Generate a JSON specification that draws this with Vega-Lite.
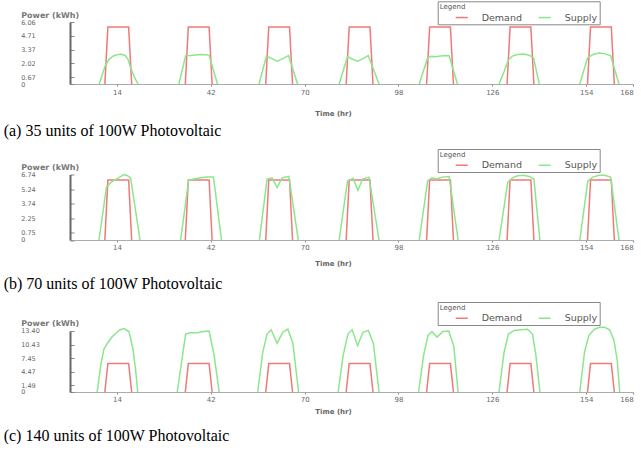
{
  "$schema": "https://vega.github.io/schema/vega-lite/v6.json",
  "background": "white",
  "padding": {"left": 3, "top": 0, "right": 0, "bottom": 0},
  "config": {"view": {"stroke": null}, "font": "DejaVu Sans",
    "legend": {"orient": "none", "legendX": 367.7, "direction": "horizontal", "titleFontSize": 7, "titleFontWeight": "normal", "titleColor": "#555", "labelFontSize": 9.5, "labelColor": "#555", "symbolType": "stroke", "symbolSize": 144, "symbolStrokeWidth": 1.5, "strokeColor": "#888", "fillColor": "white", "padding": 2, "titlePadding": 0, "columnPadding": 0, "symbolOffset": 15, "labelOffset": 13, "rowPadding": 0},
    "axisX": {"grid": false, "labelFontSize": 7, "labelColor": "#666", "tickSize": 2, "tickColor": "#888", "domainColor": "#aaa", "labelPadding": 2, "titleFontSize": 7, "titleFontWeight": "bold", "titleColor": "#666", "titleX": 263, "titleBaseline": "middle"},
    "axisY": {"labelExpr": "datum.value == 0 ? '0' : format(datum.value, '.2f')", "labelOverlap": false, "grid": false, "labelFontSize": 6.5, "labelColor": "#666", "labelAlign": "left", "labelPadding": 53.3, "tickSize": -4, "tickColor": "#888", "domainColor": "#666", "domainWidth": 2, "titleAngle": 0, "titleX": -49.3, "titleY": -7, "titleAlign": "left", "titleBaseline": "middle", "titleFontSize": 8, "titleFontWeight": "bold", "titleColor": "#777"},
    "title": {"orient": "bottom", "anchor": "start", "frame": "bounds", "font": "Liberation Serif", "fontSize": 16, "fontWeight": "normal", "color": "black", "dx": -17}
  },
  "spacing": 90.5,
  "bounds": "flush",
  "resolve": {"scale": {"color": "independent"}, "legend": {"color": "independent"}},
  "datasets": {
    "a": [
      {"d":1,"s":"Demand","t":10.4,"v":0},{"d":1,"s":"Demand","t":11.3,"v":5.57},{"d":1,"s":"Demand","t":17.5,"v":5.57},{"d":1,"s":"Demand","t":18.4,"v":0},
      {"d":2,"s":"Demand","t":34.4,"v":0},{"d":2,"s":"Demand","t":35.3,"v":5.57},{"d":2,"s":"Demand","t":41.5,"v":5.57},{"d":2,"s":"Demand","t":42.4,"v":0},
      {"d":3,"s":"Demand","t":58.4,"v":0},{"d":3,"s":"Demand","t":59.3,"v":5.57},{"d":3,"s":"Demand","t":65.5,"v":5.57},{"d":3,"s":"Demand","t":66.4,"v":0},
      {"d":4,"s":"Demand","t":82.4,"v":0},{"d":4,"s":"Demand","t":83.3,"v":5.57},{"d":4,"s":"Demand","t":89.5,"v":5.57},{"d":4,"s":"Demand","t":90.4,"v":0},
      {"d":5,"s":"Demand","t":106.4,"v":0},{"d":5,"s":"Demand","t":107.3,"v":5.57},{"d":5,"s":"Demand","t":113.5,"v":5.57},{"d":5,"s":"Demand","t":114.4,"v":0},
      {"d":6,"s":"Demand","t":130.4,"v":0},{"d":6,"s":"Demand","t":131.3,"v":5.57},{"d":6,"s":"Demand","t":137.5,"v":5.57},{"d":6,"s":"Demand","t":138.4,"v":0},
      {"d":7,"s":"Demand","t":154.4,"v":0},{"d":7,"s":"Demand","t":155.3,"v":5.57},{"d":7,"s":"Demand","t":161.5,"v":5.57},{"d":7,"s":"Demand","t":162.4,"v":0},
      {"d":1,"s":"Supply","t":8.7,"v":0},{"d":1,"s":"Supply","t":9.5,"v":0.79},{"d":1,"s":"Supply","t":10.45,"v":1.73},{"d":1,"s":"Supply","t":11.5,"v":2.36},{"d":1,"s":"Supply","t":12.8,"v":2.71},{"d":1,"s":"Supply","t":14,"v":2.85},{"d":1,"s":"Supply","t":15.3,"v":2.9},{"d":1,"s":"Supply","t":16.5,"v":2.79},{"d":1,"s":"Supply","t":17.3,"v":2.42},{"d":1,"s":"Supply","t":18.1,"v":1.58},{"d":1,"s":"Supply","t":19.2,"v":0.67},{"d":1,"s":"Supply","t":20.3,"v":0},
      {"d":2,"s":"Supply","t":32.5,"v":0},{"d":2,"s":"Supply","t":34.5,"v":2.76},{"d":2,"s":"Supply","t":36,"v":2.79},{"d":2,"s":"Supply","t":37.5,"v":2.84},{"d":2,"s":"Supply","t":39,"v":2.88},{"d":2,"s":"Supply","t":40.5,"v":2.85},{"d":2,"s":"Supply","t":41.5,"v":2.8},{"d":2,"s":"Supply","t":44,"v":0},
      {"d":3,"s":"Supply","t":56.4,"v":0},{"d":3,"s":"Supply","t":58.6,"v":2.73},{"d":3,"s":"Supply","t":60.2,"v":2.48},{"d":3,"s":"Supply","t":61.8,"v":2.22},{"d":3,"s":"Supply","t":63.5,"v":2.48},{"d":3,"s":"Supply","t":65.2,"v":2.78},{"d":3,"s":"Supply","t":67.9,"v":0},
      {"d":4,"s":"Supply","t":80.3,"v":0},{"d":4,"s":"Supply","t":82.8,"v":2.67},{"d":4,"s":"Supply","t":84.3,"v":2.42},{"d":4,"s":"Supply","t":85.8,"v":2.22},{"d":4,"s":"Supply","t":87.4,"v":2.48},{"d":4,"s":"Supply","t":89,"v":2.78},{"d":4,"s":"Supply","t":92.2,"v":0},
      {"d":5,"s":"Supply","t":104.2,"v":0},{"d":5,"s":"Supply","t":106.7,"v":2.55},{"d":5,"s":"Supply","t":107.8,"v":2.7},{"d":5,"s":"Supply","t":109,"v":2.67},{"d":5,"s":"Supply","t":110.5,"v":2.73},{"d":5,"s":"Supply","t":112,"v":2.78},{"d":5,"s":"Supply","t":113.1,"v":2.76},{"d":5,"s":"Supply","t":115.6,"v":0},
      {"d":6,"s":"Supply","t":128,"v":0},{"d":6,"s":"Supply","t":129.5,"v":1.21},{"d":6,"s":"Supply","t":130.8,"v":2.36},{"d":6,"s":"Supply","t":132,"v":2.73},{"d":6,"s":"Supply","t":133.5,"v":2.88},{"d":6,"s":"Supply","t":135.4,"v":2.93},{"d":6,"s":"Supply","t":137,"v":2.82},{"d":6,"s":"Supply","t":138.3,"v":2.55},{"d":6,"s":"Supply","t":139.2,"v":1.21},{"d":6,"s":"Supply","t":140,"v":0},
      {"d":7,"s":"Supply","t":152.1,"v":0},{"d":7,"s":"Supply","t":154.4,"v":2.55},{"d":7,"s":"Supply","t":156,"v":2.88},{"d":7,"s":"Supply","t":157.8,"v":3.03},{"d":7,"s":"Supply","t":159.5,"v":2.97},{"d":7,"s":"Supply","t":161.3,"v":2.76},{"d":7,"s":"Supply","t":163.8,"v":0}
    ],
    "b": [
      {"d":1,"s":"Demand","t":10.4,"v":0},{"d":1,"s":"Demand","t":11.3,"v":6.17},{"d":1,"s":"Demand","t":17.5,"v":6.17},{"d":1,"s":"Demand","t":18.4,"v":0},
      {"d":2,"s":"Demand","t":34.4,"v":0},{"d":2,"s":"Demand","t":35.3,"v":6.17},{"d":2,"s":"Demand","t":41.5,"v":6.17},{"d":2,"s":"Demand","t":42.4,"v":0},
      {"d":3,"s":"Demand","t":58.4,"v":0},{"d":3,"s":"Demand","t":59.3,"v":6.17},{"d":3,"s":"Demand","t":65.5,"v":6.17},{"d":3,"s":"Demand","t":66.4,"v":0},
      {"d":4,"s":"Demand","t":82.4,"v":0},{"d":4,"s":"Demand","t":83.3,"v":6.17},{"d":4,"s":"Demand","t":89.5,"v":6.17},{"d":4,"s":"Demand","t":90.4,"v":0},
      {"d":5,"s":"Demand","t":106.4,"v":0},{"d":5,"s":"Demand","t":107.3,"v":6.17},{"d":5,"s":"Demand","t":113.5,"v":6.17},{"d":5,"s":"Demand","t":114.4,"v":0},
      {"d":6,"s":"Demand","t":130.4,"v":0},{"d":6,"s":"Demand","t":131.3,"v":6.17},{"d":6,"s":"Demand","t":137.5,"v":6.17},{"d":6,"s":"Demand","t":138.4,"v":0},
      {"d":7,"s":"Demand","t":154.4,"v":0},{"d":7,"s":"Demand","t":155.3,"v":6.17},{"d":7,"s":"Demand","t":161.5,"v":6.17},{"d":7,"s":"Demand","t":162.4,"v":0},
      {"d":1,"s":"Supply","t":8.65,"v":0},{"d":1,"s":"Supply","t":10.9,"v":5.46},{"d":1,"s":"Supply","t":12,"v":5.86},{"d":1,"s":"Supply","t":13.1,"v":6.13},{"d":1,"s":"Supply","t":14.5,"v":6.4},{"d":1,"s":"Supply","t":16.1,"v":6.74},{"d":1,"s":"Supply","t":17.2,"v":6.61},{"d":1,"s":"Supply","t":18.1,"v":6.34},{"d":1,"s":"Supply","t":20.9,"v":0},
      {"d":2,"s":"Supply","t":33,"v":0},{"d":2,"s":"Supply","t":35.4,"v":6.13},{"d":2,"s":"Supply","t":37,"v":6.27},{"d":2,"s":"Supply","t":39,"v":6.4},{"d":2,"s":"Supply","t":41,"v":6.47},{"d":2,"s":"Supply","t":42.8,"v":6.47},{"d":2,"s":"Supply","t":45.2,"v":0},
      {"d":3,"s":"Supply","t":56.5,"v":0},{"d":3,"s":"Supply","t":58.8,"v":6.27},{"d":3,"s":"Supply","t":60.3,"v":6.4},{"d":3,"s":"Supply","t":61.8,"v":5.39},{"d":3,"s":"Supply","t":63.3,"v":6.4},{"d":3,"s":"Supply","t":65.3,"v":6.54},{"d":3,"s":"Supply","t":68.1,"v":0},
      {"d":4,"s":"Supply","t":80.3,"v":0},{"d":4,"s":"Supply","t":82.8,"v":6.07},{"d":4,"s":"Supply","t":84.5,"v":6.34},{"d":4,"s":"Supply","t":85.9,"v":5.12},{"d":4,"s":"Supply","t":87.3,"v":6.27},{"d":4,"s":"Supply","t":89.2,"v":6.47},{"d":4,"s":"Supply","t":92.2,"v":0},
      {"d":5,"s":"Supply","t":104.2,"v":0},{"d":5,"s":"Supply","t":106.7,"v":6.07},{"d":5,"s":"Supply","t":108,"v":6.4},{"d":5,"s":"Supply","t":109.5,"v":6.27},{"d":5,"s":"Supply","t":111,"v":6.47},{"d":5,"s":"Supply","t":113.1,"v":6.54},{"d":5,"s":"Supply","t":115.8,"v":0},
      {"d":6,"s":"Supply","t":128,"v":0},{"d":6,"s":"Supply","t":130.6,"v":5.93},{"d":6,"s":"Supply","t":132,"v":6.4},{"d":6,"s":"Supply","t":133.6,"v":6.61},{"d":6,"s":"Supply","t":135.4,"v":6.67},{"d":6,"s":"Supply","t":137,"v":6.54},{"d":6,"s":"Supply","t":138.4,"v":6.27},{"d":6,"s":"Supply","t":140.2,"v":0},
      {"d":7,"s":"Supply","t":152.1,"v":0},{"d":7,"s":"Supply","t":154.5,"v":6.07},{"d":7,"s":"Supply","t":156,"v":6.47},{"d":7,"s":"Supply","t":157.8,"v":6.67},{"d":7,"s":"Supply","t":159.5,"v":6.67},{"d":7,"s":"Supply","t":161.3,"v":6.47},{"d":7,"s":"Supply","t":163.8,"v":0}
    ],
    "c": [
      {"d":1,"s":"Demand","t":10.4,"v":0},{"d":1,"s":"Demand","t":11.3,"v":6.25},{"d":1,"s":"Demand","t":17.5,"v":6.25},{"d":1,"s":"Demand","t":18.4,"v":0},
      {"d":2,"s":"Demand","t":34.4,"v":0},{"d":2,"s":"Demand","t":35.3,"v":6.25},{"d":2,"s":"Demand","t":41.5,"v":6.25},{"d":2,"s":"Demand","t":42.4,"v":0},
      {"d":3,"s":"Demand","t":58.4,"v":0},{"d":3,"s":"Demand","t":59.3,"v":6.25},{"d":3,"s":"Demand","t":65.5,"v":6.25},{"d":3,"s":"Demand","t":66.4,"v":0},
      {"d":4,"s":"Demand","t":82.4,"v":0},{"d":4,"s":"Demand","t":83.3,"v":6.25},{"d":4,"s":"Demand","t":89.5,"v":6.25},{"d":4,"s":"Demand","t":90.4,"v":0},
      {"d":5,"s":"Demand","t":106.4,"v":0},{"d":5,"s":"Demand","t":107.3,"v":6.25},{"d":5,"s":"Demand","t":113.5,"v":6.25},{"d":5,"s":"Demand","t":114.4,"v":0},
      {"d":6,"s":"Demand","t":130.4,"v":0},{"d":6,"s":"Demand","t":131.3,"v":6.25},{"d":6,"s":"Demand","t":137.5,"v":6.25},{"d":6,"s":"Demand","t":138.4,"v":0},
      {"d":7,"s":"Demand","t":154.4,"v":0},{"d":7,"s":"Demand","t":155.3,"v":6.25},{"d":7,"s":"Demand","t":161.5,"v":6.25},{"d":7,"s":"Demand","t":162.4,"v":0},
      {"d":1,"s":"Supply","t":8.1,"v":0},{"d":1,"s":"Supply","t":9.2,"v":6.03},{"d":1,"s":"Supply","t":10.1,"v":9.38},{"d":1,"s":"Supply","t":11.2,"v":10.72},{"d":1,"s":"Supply","t":12.5,"v":12.06},{"d":1,"s":"Supply","t":13.6,"v":12.86},{"d":1,"s":"Supply","t":15,"v":13.67},{"d":1,"s":"Supply","t":16.1,"v":13.94},{"d":1,"s":"Supply","t":17.6,"v":13.27},{"d":1,"s":"Supply","t":18.8,"v":9.38},{"d":1,"s":"Supply","t":19.6,"v":4.69},{"d":1,"s":"Supply","t":20.2,"v":0},
      {"d":2,"s":"Supply","t":32,"v":0},{"d":2,"s":"Supply","t":34.5,"v":12.73},{"d":2,"s":"Supply","t":36,"v":13.0},{"d":2,"s":"Supply","t":38,"v":13.0},{"d":2,"s":"Supply","t":39.8,"v":13.27},{"d":2,"s":"Supply","t":41.5,"v":13.4},{"d":2,"s":"Supply","t":43,"v":8.04},{"d":2,"s":"Supply","t":44.5,"v":0},
      {"d":3,"s":"Supply","t":56,"v":0},{"d":3,"s":"Supply","t":57.5,"v":8.71},{"d":3,"s":"Supply","t":58.8,"v":12.73},{"d":3,"s":"Supply","t":60,"v":13.67},{"d":3,"s":"Supply","t":61.8,"v":10.72},{"d":3,"s":"Supply","t":63.5,"v":13.13},{"d":3,"s":"Supply","t":65,"v":13.8},{"d":3,"s":"Supply","t":66.5,"v":10.72},{"d":3,"s":"Supply","t":68.2,"v":0},
      {"d":4,"s":"Supply","t":80,"v":0},{"d":4,"s":"Supply","t":81.5,"v":8.04},{"d":4,"s":"Supply","t":82.9,"v":12.73},{"d":4,"s":"Supply","t":84.2,"v":13.67},{"d":4,"s":"Supply","t":85.8,"v":10.18},{"d":4,"s":"Supply","t":87.4,"v":13.13},{"d":4,"s":"Supply","t":89,"v":13.53},{"d":4,"s":"Supply","t":90.5,"v":10.72},{"d":4,"s":"Supply","t":92.2,"v":0},
      {"d":5,"s":"Supply","t":104,"v":0},{"d":5,"s":"Supply","t":105.5,"v":8.04},{"d":5,"s":"Supply","t":106.8,"v":12.46},{"d":5,"s":"Supply","t":108,"v":13.27},{"d":5,"s":"Supply","t":109.5,"v":12.06},{"d":5,"s":"Supply","t":111.2,"v":13.27},{"d":5,"s":"Supply","t":113,"v":13.4},{"d":5,"s":"Supply","t":114.5,"v":10.05},{"d":5,"s":"Supply","t":115.8,"v":0},
      {"d":6,"s":"Supply","t":128,"v":0},{"d":6,"s":"Supply","t":129.5,"v":8.71},{"d":6,"s":"Supply","t":130.8,"v":12.73},{"d":6,"s":"Supply","t":132.5,"v":13.53},{"d":6,"s":"Supply","t":134.5,"v":13.67},{"d":6,"s":"Supply","t":136.5,"v":13.8},{"d":6,"s":"Supply","t":138,"v":12.73},{"d":6,"s":"Supply","t":139,"v":8.04},{"d":6,"s":"Supply","t":140.2,"v":0},
      {"d":7,"s":"Supply","t":152.1,"v":0},{"d":7,"s":"Supply","t":153.5,"v":8.71},{"d":7,"s":"Supply","t":154.8,"v":12.46},{"d":7,"s":"Supply","t":156.5,"v":13.8},{"d":7,"s":"Supply","t":158,"v":14.2},{"d":7,"s":"Supply","t":159.5,"v":14.2},{"d":7,"s":"Supply","t":161,"v":13.67},{"d":7,"s":"Supply","t":162.3,"v":11.39},{"d":7,"s":"Supply","t":163.3,"v":6.7},{"d":7,"s":"Supply","t":164,"v":0}
    ]
  },
  "vconcat": [
    {
      "width": 563.1, "height": 62,
      "data": {"name": "a"},
      "title": {"text": "(a) 35 units of 100W Photovoltaic", "offset": 7},
      "mark": {"type": "line", "strokeWidth": 1.5, "clip": false},
      "encoding": {
        "x": {"field": "t", "type": "quantitative", "scale": {"domain": [0, 168], "nice": false},
          "axis": {"values": [14, 42, 70, 98, 126, 154, 168], "title": "Time (hr)", "titleY": 29}},
        "y": {"field": "v", "type": "quantitative", "scale": {"domain": [0, 6.06], "nice": false, "zero": true},
          "axis": {"values": [0, 0.67, 2.02, 3.37, 4.71, 6.06], "title": "Power (kWh)"}},
        "color": {"field": "s", "type": "nominal", "scale": {"domain": ["Demand", "Supply"], "range": ["#f07878", "#8ce68c"]},
          "legend": {"title": "Legend", "legendY": -20.7}},
        "detail": {"field": "d", "type": "nominal"}
      }
    },
    {
      "width": 563.1, "height": 65.5,
      "data": {"name": "b"},
      "title": {"text": "(b) 70 units of 100W Photovoltaic", "offset": 9},
      "mark": {"type": "line", "strokeWidth": 1.5, "clip": false},
      "encoding": {
        "x": {"field": "t", "type": "quantitative", "scale": {"domain": [0, 168], "nice": false},
          "axis": {"values": [14, 42, 70, 98, 126, 154, 168], "title": "Time (hr)", "titleY": 24}},
        "y": {"field": "v", "type": "quantitative", "scale": {"domain": [0, 6.74], "nice": false, "zero": true},
          "axis": {"values": [0, 0.75, 2.25, 3.74, 5.24, 6.74], "title": "Power (kWh)"}},
        "color": {"field": "s", "type": "nominal", "scale": {"domain": ["Demand", "Supply"], "range": ["#f07878", "#8ce68c"]},
          "legend": {"title": "Legend", "legendY": -25.5}},
        "detail": {"field": "d", "type": "nominal"}
      }
    },
    {
      "width": 563.1, "height": 61,
      "data": {"name": "c"},
      "title": {"text": "(c) 140 units of 100W Photovoltaic", "offset": 13},
      "mark": {"type": "line", "strokeWidth": 1.5, "clip": false},
      "encoding": {
        "x": {"field": "t", "type": "quantitative", "scale": {"domain": [0, 168], "nice": false},
          "axis": {"values": [14, 42, 70, 98, 126, 154, 168], "title": "Time (hr)", "titleY": 20}},
        "y": {"field": "v", "type": "quantitative", "scale": {"domain": [0, 13.4], "nice": false, "zero": true},
          "axis": {"values": [0, 1.49, 4.47, 7.45, 10.43, 13.4], "title": "Power (kWh)"}},
        "color": {"field": "s", "type": "nominal", "scale": {"domain": ["Demand", "Supply"], "range": ["#f07878", "#8ce68c"]},
          "legend": {"title": "Legend", "legendY": -29}},
        "detail": {"field": "d", "type": "nominal"}
      }
    }
  ]
}
